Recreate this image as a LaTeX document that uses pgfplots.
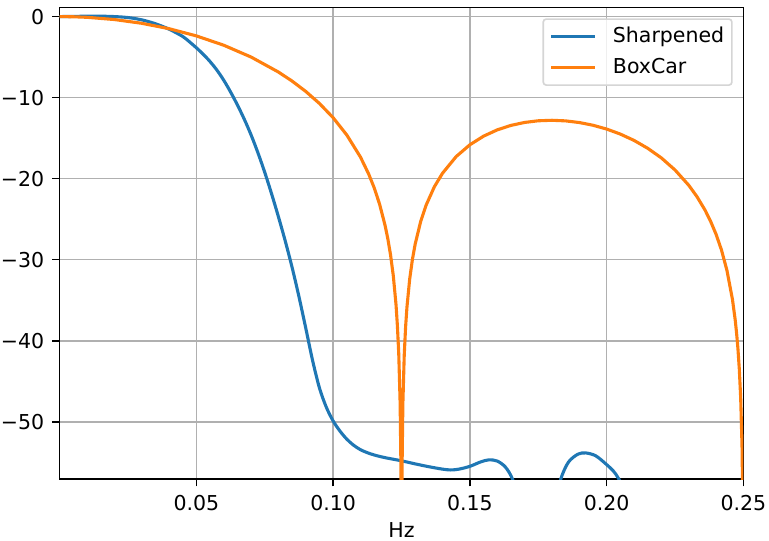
\documentclass[border=0pt]{standalone}
\usepackage{fontspec}
\setmainfont{DejaVu Sans}
\usepackage{pgfplots}
\pgfplotsset{compat=1.18}
\definecolor{mplblue}{HTML}{1F77B4}
\definecolor{mplorange}{HTML}{FF7F0E}
\definecolor{gridgray}{HTML}{B0B0B0}
\definecolor{legedge}{HTML}{D5D5D5}

\begin{document}
\begin{tikzpicture}[font=\fontsize{20.5bp}{24.6bp}\selectfont]
\begin{axis}[
    scale only axis,
    width=683.8bp, height=471.6bp,
    xmin=0, xmax=0.25,
    ymin=-57.1, ymax=1.1,
    xtick={0.05,0.10,0.15,0.20,0.25},
    xticklabels={0.05,0.10,0.15,0.20,0.25},
    ytick={-50,-40,-30,-20,-10,0},
    yticklabels={−50,−40,−30,−20,−10,0},
    tick align=outside, tick pos=left,
    major tick length=7.2bp,
    every tick/.style={line width=1.64bp, black},
    axis line style={line width=1.64bp, black},
    grid=major,
    major grid style={line width=1.64bp, gridgray},
    xticklabel style={inner sep=0pt, yshift=-8.5bp},
    yticklabel style={anchor=east, inner sep=0pt, xshift=-8bp},
    xlabel={Hz},
    xlabel style={at={(axis description cs:0.5,0)}, anchor=base, inner sep=0pt, yshift=-58.2bp},
    legend cell align=left,
    legend image code/.code={
        \draw[#1, line cap=rect] (0bp,0bp) -- (41bp,0bp);
        \path (58.9bp,0bp);
    },
    legend style={
        at={(1,1)}, anchor=north east, xshift=-10.7bp, yshift=-10.6bp,
        draw=legedge, line width=1.64bp, rounded corners=3bp,
        fill=white, fill opacity=0.8, text opacity=1,
        inner xsep=7.7bp, inner ysep=8bp,
        nodes={inner sep=0pt, text height=15bp, text depth=4bp},
        row sep=12bp,
    },
]
\addplot[mplblue, line width=3.1bp, line join=round, smooth] coordinates {
    (0,0) (0.005,0.02) (0.010,0.05) (0.015,0.05) (0.020,0.0)
    (0.025,-0.12) (0.030,-0.40) (0.035,-0.88) (0.040,-1.55) (0.045,-2.45)
    (0.0475,-3.12) (0.050,-3.85) (0.0525,-4.65) (0.055,-5.55) (0.0575,-6.6)
    (0.060,-7.85) (0.0625,-9.3) (0.065,-10.9) (0.0675,-12.65) (0.070,-14.6)
    (0.0725,-16.8) (0.075,-19.22) (0.0775,-21.87) (0.080,-24.7) (0.0825,-27.7)
    (0.085,-30.95) (0.0875,-34.55) (0.090,-38.45) (0.0925,-42.45) (0.095,-45.83)
    (0.0975,-48.2) (0.100,-49.9) (0.1025,-51.15) (0.105,-52.15) (0.1075,-52.9)
    (0.110,-53.45) (0.1125,-53.82) (0.115,-54.1) (0.1175,-54.32) (0.120,-54.5)
    (0.125,-54.82) (0.130,-55.2) (0.135,-55.55) (0.140,-55.85) (0.143,-55.95)
    (0.146,-55.85) (0.150,-55.5) (0.154,-54.95) (0.157,-54.7) (0.160,-54.85)
    (0.163,-55.6) (0.1656,-57.1) (0.168,-60) (0.172,-70) (0.1755,-90)
    (0.179,-70) (0.1815,-60) (0.1832,-57.1) (0.186,-55.0) (0.1895,-54.0)
    (0.1924,-53.85) (0.196,-54.2) (0.1997,-55.2) (0.2025,-56.1) (0.2045,-57.1)
    (0.207,-59) (0.210,-63) (0.215,-75) (0.225,-80) (0.25,-85)
};
\addlegendentry{Sharpened}
\addplot[mplorange, line width=3.1bp, line join=round] coordinates {
    (0,0) (0.005,-0.0225) (0.010,-0.090) (0.020,-0.363) (0.030,-0.826)
    (0.040,-1.493) (0.050,-2.384) (0.060,-3.533) (0.070,-4.992) (0.080,-6.843)
    (0.085,-7.959) (0.090,-9.238) (0.095,-10.722) (0.100,-12.477) (0.105,-14.614)
    (0.110,-17.339) (0.113,-19.43) (0.115,-21.115) (0.117,-23.164) (0.119,-25.778)
    (0.120,-27.42) (0.121,-29.42) (0.122,-31.98) (0.123,-35.56) (0.1235,-38.16)
    (0.124,-41.65) (0.1245,-47.70) (0.1248,-55.7) (0.1249,-61.7) (0.12497,-72.2)
    (0.125,-300)
    (0.12503,-72.3) (0.1251,-61.75) (0.1252,-55.75) (0.1255,-47.77) (0.126,-41.78)
    (0.1265,-38.29) (0.127,-35.83) (0.128,-32.37) (0.129,-29.95) (0.130,-28.08)
    (0.132,-25.30) (0.134,-23.27) (0.137,-21.01) (0.140,-19.33) (0.145,-17.27)
    (0.150,-15.82) (0.155,-14.757) (0.160,-13.98) (0.165,-13.43) (0.170,-13.065)
    (0.175,-12.859) (0.180,-12.798) (0.185,-12.871) (0.190,-13.075) (0.195,-13.41)
    (0.200,-13.88) (0.205,-14.50) (0.210,-15.28) (0.215,-16.25) (0.220,-17.44)
    (0.225,-18.93) (0.230,-20.81) (0.233,-22.21) (0.236,-23.90) (0.238,-25.26)
    (0.240,-26.86) (0.242,-28.82) (0.244,-31.35) (0.246,-34.91) (0.247,-37.43)
    (0.2475,-39.03) (0.248,-40.98) (0.2485,-43.49) (0.249,-47.02) (0.2495,-53.05)
    (0.2498,-61.0) (0.2499,-67.0) (0.250,-300)
};
\addlegendentry{BoxCar}
\end{axis}
\pgfresetboundingbox
\path[use as bounding box] ([xshift=-59.6bp,yshift=-61.7bp]current axis.south west)
    rectangle ([xshift=25.6bp,yshift=7.7bp]current axis.north east);
\end{tikzpicture}
\end{document}
